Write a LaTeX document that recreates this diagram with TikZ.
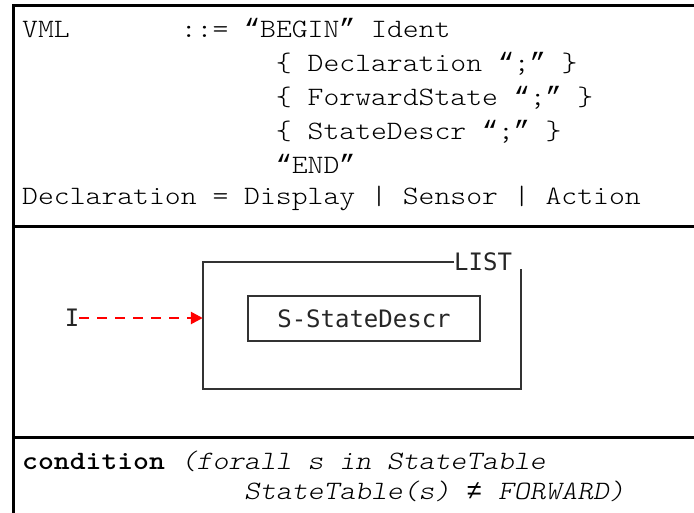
\documentclass[tikz,border=0pt]{standalone}
\usepackage{fontspec}
\newfontfamily\cour{lmmonolt10-regular.otf}[
  BoldFont=lmmonolt10-bold.otf,
  ItalicFont=lmmonolt10-oblique.otf,
  FakeStretch=1.14]
\newfontfamily\monoext{Liberation Mono}
\newfontfamily\pix{DejaVu Sans Mono}
\usetikzlibrary{arrows.meta}
\newcommand\cols[1]{\hspace*{#1\fontcharwd\font`M}}
\newcommand\oq{{\monoext “}}
\newcommand\cq{{\monoext ”}}
\newcommand\noteq{{\monoext\itshape ≠}}
\begin{document}
\begin{tikzpicture}[x=1pt,y=-1pt,
  frameline/.style={line width=3pt,black},
  gram/.style={anchor=base west,inner sep=0pt,font=\cour\fontsize{26.5}{30}\selectfont},
  boxline/.style={line width=2pt,black!80},
  pixtext/.style={inner sep=0pt,font=\pix\fontsize{24}{28}\selectfont,text=black!85},
  flow/.style={red,line width=2.5pt,dash pattern=on 10pt off 8pt,
    -{Triangle[length=12pt,width=12pt]}}]
\useasboundingbox (0,0) rectangle (694,512);
% outer frame and panel separators
\draw[frameline] (13,520) -- (13,5) -- (700,5);
\draw[frameline] (13,226) -- (700,226);
\draw[frameline] (13,437) -- (700,437);
% grammar rules
\node[gram] (r1) at (22,37) {VML\cols{7}::= \oq BEGIN\cq{} Ident};
\node[gram] (r2) at (22,71) {\cols{16}\{ Declaration \oq;\cq{} \}};
\node[gram] (r3) at (22,105) {\cols{16}\{ ForwardState \oq;\cq{} \}};
\node[gram] (r4) at (22,139) {\cols{16}\{ StateDescr \oq;\cq{} \}};
\node[gram] (r5) at (22,173) {\cols{16}\oq END\cq};
\node[gram] (r6) at (22,204) {Declaration = Display | Sensor | Action};
% LIST construct
\node[minimum width=318pt,minimum height=127pt,inner sep=0pt] (list) at (362,325.5) {};
\node[pixtext,anchor=east] (listlbl) at ([xshift=-9pt]list.north east) {LIST};
\draw[boxline] (listlbl.west) -- (list.north west) -- (list.south west)
  -- (list.south east) -- ([yshift=-7pt]list.north east);
\node[draw,boxline,pixtext,minimum width=232pt,minimum height=45pt] (sd) at (364,318.5) {S-StateDescr};
\node[pixtext] (init) at (72,318) {I};
\draw[flow] (init.east) -- (init.east -| list.west);
% condition
\node[gram] (c1) at (22,469) {\bfseries condition \mdseries\itshape(forall s in StateTable};
\node[gram] (c2) at (22,499) {\cols{14}\itshape StateTable(s) \noteq{} FORWARD)};
\end{tikzpicture}
\end{document}
